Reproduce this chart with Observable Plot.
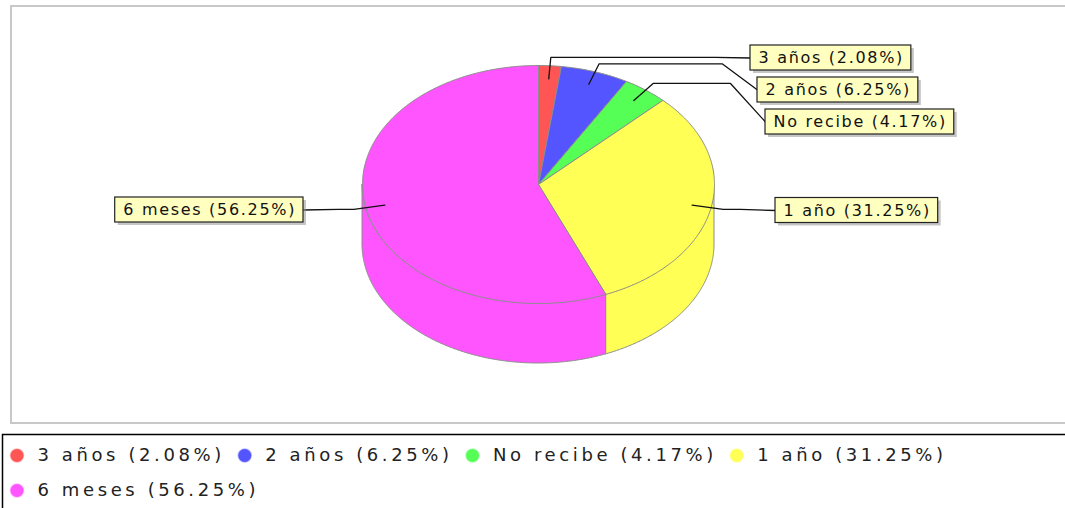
<!DOCTYPE html>
<html><head><meta charset="utf-8">
<script src="https://cdn.jsdelivr.net/npm/d3@7"></script>
<script src="https://cdn.jsdelivr.net/npm/@observablehq/plot@0.6"></script>
<style>body{margin:0;background:#fff;overflow:hidden}</style>
</head><body><div id="chart"></div>
<script>
// ---- data ----
const categories = ["3 años", "2 años", "No recibe", "1 año", "6 meses"];
const percentages = [2.08, 6.25, 4.17, 31.25, 56.25];
const palette = ["#ff5555", "#5555ff", "#55ff55", "#ffff55", "#ff55ff"];

// ---- layout ----
const W = 1065, H = 508;
const P = {cx: 538, cy: 184, rx: 176, ry: 119, depth: 60};
const labelEdgeX = [750, 757, 765, 775, 303];   // left edge (right side) or right edge (left side)
const labelCenterY = [57.5, 89.5, 121.5, 210, 209.5];
const FONT = "'DejaVu Sans'";
const labelFont = 16, labelLS = 1.7, legendFont = 18, legendLS = 3.6;

const ctx = document.createElement("canvas").getContext("2d");
function textW(t, size, ls) { ctx.font = `${size}px ${FONT}`; return ctx.measureText(t).width + ls * (t.length - 1); }

const labels = categories.map((c, i) => `${c} (${percentages[i].toFixed(2)}%)`);
const arcs = d3.pie().sort(null).value(d => d)(percentages);

const px = (a, k = 1) => P.cx + k * P.rx * Math.sin(a);
const py = (a, k = 1) => P.cy - k * P.ry * Math.cos(a);
const STEP = Math.PI / 360;

// top faces
const topPts = [];
arcs.forEach((a, i) => {
  const lab = categories[i];
  topPts.push({label: lab, x: P.cx, y: P.cy});
  for (let t = a.startAngle; t < a.endAngle; t += STEP) topPts.push({label: lab, x: px(t), y: py(t)});
  topPts.push({label: lab, x: px(a.endAngle), y: py(a.endAngle)});
  topPts.push({label: lab, x: P.cx, y: P.cy});
});
// front walls
const wallPts = [];
arcs.forEach((a, i) => {
  const lo = Math.max(a.startAngle, Math.PI / 2), hi = Math.min(a.endAngle, 3 * Math.PI / 2);
  if (lo >= hi) return;
  const lab = categories[i];
  const push = t => wallPts.push({label: lab, x: px(t), y1: py(t), y2: py(t) + P.depth});
  for (let t = lo; t < hi; t += STEP) push(t);
  push(hi);
});
// label boxes and leader lines
const boxes = [], leaders = [];
arcs.forEach((a, i) => {
  const mid = (a.startAngle + a.endAngle) / 2;
  const right = Math.sin(mid) >= 0;
  const w = textW(labels[i], labelFont, labelLS) + 17;
  const x1 = right ? labelEdgeX[i] : labelEdgeX[i] - w;
  const x2 = x1 + w;
  const cy = labelCenterY[i];
  boxes.push({label: categories[i], text: labels[i], x1, x2, y1: cy - 12.5, y2: cy + 12.5, tx: x1 + 8, cy});
  const ex = px(mid, 1.07), ey = py(mid, 1.07);
  const bx = right ? x1 : x2;
  const sx = right ? bx - 35 : bx + 35;
  [[px(mid, 0.89), py(mid, 0.89)], [ex, ey], [sx, ey], [bx, cy]].forEach(([x, y]) => leaders.push({label: categories[i], x, y}));
});
// legend items
const legendItems = [];
{
  let x0 = 10, row = 0;
  const rowY = [455, 490];
  labels.forEach((t, i) => {
    const tw = textW(t, legendFont, legendLS);
    if (x0 + 27 + tw > W - 20) { row++; x0 = 10; }
    legendItems.push({label: categories[i], text: t, mx: x0 + 6.5, tx: x0 + 27, y: rowY[row]});
    x0 += 27 + tw + 17;
  });
}
const frames = [{x1: 11, x2: W + 20, y1: 6, y2: 423}];
const legendFrame = [{x1: 2.5, x2: W + 20, y1: 434.5, y2: H + 20}];

const chart = Plot.plot({
  width: W, height: H, margin: 0,
  x: {domain: [0, W], range: [0, W], axis: null},
  y: {domain: [0, H], range: [0, H], axis: null},
  color: {domain: categories, range: palette},
  style: {fontFamily: FONT, background: "white"},
  marks: [
    Plot.rect(frames, {x1: "x1", x2: "x2", y1: "y1", y2: "y2", fill: "white", stroke: "#c8c8c8", strokeWidth: 2}),
    Plot.rect(legendFrame, {x1: "x1", x2: "x2", y1: "y1", y2: "y2", fill: "white", stroke: "black", strokeWidth: 1.5}),
    Plot.areaY(wallPts, {x: "x", y1: "y1", y2: "y2", z: "label", fill: "label", stroke: "#8c8c8c", strokeWidth: 1}),
    Plot.line(topPts, {x: "x", y: "y", z: "label", fill: "label", stroke: "#8c8c8c", strokeWidth: 1, curve: "linear"}),
    Plot.line(leaders, {x: "x", y: "y", z: "label", stroke: "#111", strokeWidth: 1.3}),
    Plot.rect(boxes, {x1: d => d.x1 + 3, x2: d => d.x2 + 3, y1: d => d.y1 + 3, y2: d => d.y2 + 3, fill: "#979797", fillOpacity: 0.55}),
    Plot.rect(boxes, {x1: "x1", x2: "x2", y1: "y1", y2: "y2", fill: "#ffffc0", stroke: "#222", strokeWidth: 1.2}),
    Plot.text(boxes, {x: "tx", y: "cy", text: "text", textAnchor: "start", fontSize: labelFont, fill: "#111", ariaDescription: "pie-label"}),
    Plot.dot(legendItems, {x: "mx", y: "y", r: 6.5, fill: "label", stroke: "label", strokeOpacity: 0.4}),
    Plot.text(legendItems, {x: "tx", y: "y", text: "text", textAnchor: "start", fontSize: legendFont, fill: "#222", ariaDescription: "legend-label"})
  ]
});
d3.select(chart).selectAll('g[aria-description="pie-label"] text').style("letter-spacing", labelLS + "px");
d3.select(chart).selectAll('g[aria-description="legend-label"] text').style("letter-spacing", legendLS + "px");
document.getElementById("chart").appendChild(chart);
</script>
</body></html>
